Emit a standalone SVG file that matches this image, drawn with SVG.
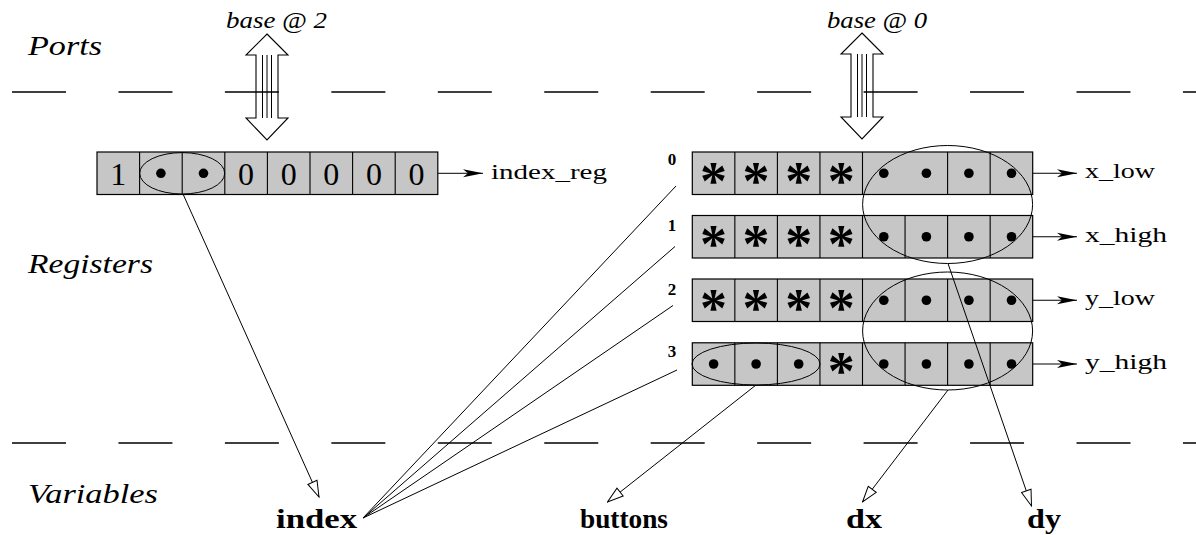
<svg xmlns="http://www.w3.org/2000/svg" width="1196" height="535" viewBox="0 0 1196 535">
<style>
.reg{fill:#c6c6c6;stroke:#000;stroke-width:1.2}
.div{stroke:#000;stroke-width:1.1}
.dot{fill:#000}
.ell{fill:none;stroke:#000;stroke-width:1}
.con{fill:none;stroke:#000;stroke-width:1}
.dash{stroke:#000;stroke-width:1.3;stroke-dasharray:54 52.45}
.sec{font-family:"Liberation Serif",serif;font-style:italic;font-size:27px}
.base{font-family:"Liberation Serif",serif;font-style:italic;font-size:24px}
.name{font-family:"Liberation Serif",serif;font-size:22px}
.var{font-family:"Liberation Serif",serif;font-weight:bold;font-size:27px}
.num{font-family:"Liberation Serif",serif;font-weight:bold;font-size:17px;text-anchor:middle}
.dig{font-family:"Liberation Serif",serif;font-size:32px;text-anchor:middle}
.ast{font-family:"Liberation Serif",serif;font-weight:bold;font-size:54px;text-anchor:middle}
</style>
<defs>
<marker id="fa" viewBox="0 0 20 10" refX="20" refY="5" markerWidth="20" markerHeight="10" orient="auto" markerUnits="userSpaceOnUse"><path d="M0,1 L20,5 L0,9 L5,5 Z" fill="#000"/></marker>
<marker id="oa" viewBox="-1 -1 18 12" refX="16" refY="5" markerWidth="18" markerHeight="12" orient="auto" markerUnits="userSpaceOnUse"><path d="M0,0 L16,5 L0,10 Z" fill="#fff" stroke="#000" stroke-width="1"/></marker>
<g id="darrow"><polygon points="0,0 21,21 11,21 11,84 21,84 0,106 -21,84 -11,84 -11,21 -21,21" fill="none" stroke="#000" stroke-width="1.1"/><path d="M-4.5,21V84M0,21V84M4.5,21V84" stroke="#000" stroke-width="1"/></g>
</defs>
<rect width="1196" height="535" fill="#fff"/>

<!-- section labels -->
<g id="sections">
<text class="sec" x="28" y="55" textLength="74" lengthAdjust="spacingAndGlyphs">Ports</text>
<text class="sec" x="28" y="273" textLength="125" lengthAdjust="spacingAndGlyphs">Registers</text>
<text class="sec" x="28" y="503" textLength="130" lengthAdjust="spacingAndGlyphs">Variables</text>
</g>

<!-- port arrows -->
<g id="port2">
<use href="#darrow" transform="translate(267,34)"/>
<text class="base" x="226" y="28" textLength="101" lengthAdjust="spacingAndGlyphs">base @ 2</text>
</g>
<g id="port0">
<use href="#darrow" transform="translate(862,33)"/>
<text class="base" x="827" y="28" textLength="100" lengthAdjust="spacingAndGlyphs">base @ 0</text>
</g>

<!-- dashed boundaries -->
<g id="boundaries">
<line class="dash" x1="12" y1="92" x2="1196" y2="92"/>
<line class="dash" x1="12" y1="443" x2="1196" y2="443"/>
</g>

<!-- index register -->
<g id="index_reg">
<rect class="reg" x="97" y="152" width="340.8" height="42.5"/>
<path class="div" d="M139.6,152V194.5M182.2,152V194.5M224.8,152V194.5M267.4,152V194.5M310,152V194.5M352.6,152V194.5M395.2,152V194.5"/>
<text class="dig" x="118.3" y="184.5">1</text>
<circle class="dot" cx="160.9" cy="173.3" r="4.8"/>
<circle class="dot" cx="203.5" cy="173.3" r="4.8"/>
<text class="dig" x="246.1" y="184.5">0</text>
<text class="dig" x="288.7" y="184.5">0</text>
<text class="dig" x="331.3" y="184.5">0</text>
<text class="dig" x="373.9" y="184.5">0</text>
<text class="dig" x="416.5" y="184.5">0</text>
<ellipse class="ell" cx="182.2" cy="173.3" rx="42.5" ry="20.7"/>
<text class="name" x="491" y="179" textLength="116" lengthAdjust="spacingAndGlyphs">index_reg</text>
</g>

<!-- row 0 -->
<g id="x_low">
<rect class="reg" x="692.3" y="152" width="340.4" height="42.5"/>
<path class="div" d="M734.85,152V194.5M777.4,152V194.5M819.95,152V194.5M862.5,152V194.5M947.6,152V194.5M990.15,152V194.5"/>
<text class="num" x="672" y="165">0</text>
<text class="ast" x="713.6" y="198.5">*</text>
<text class="ast" x="756.1" y="198.5">*</text>
<text class="ast" x="798.7" y="198.5">*</text>
<text class="ast" x="841.2" y="198.5">*</text>
<circle class="dot" cx="883.8" cy="173.25" r="4.8"/>
<circle class="dot" cx="926.4" cy="173.25" r="4.8"/>
<circle class="dot" cx="968.9" cy="173.25" r="4.8"/>
<circle class="dot" cx="1011.5" cy="173.25" r="4.8"/>
<text class="name" x="1085" y="178" textLength="70" lengthAdjust="spacingAndGlyphs">x_low</text>
</g>
<!-- row 1 -->
<g id="x_high">
<rect class="reg" x="692.3" y="215.5" width="340.4" height="42.5"/>
<path class="div" d="M734.85,215.5V258M777.4,215.5V258M819.95,215.5V258M862.5,215.5V258M905.05,215.5V258M947.6,215.5V258M990.15,215.5V258"/>
<text class="num" x="672" y="231">1</text>
<text class="ast" x="713.6" y="262">*</text>
<text class="ast" x="756.1" y="262">*</text>
<text class="ast" x="798.7" y="262">*</text>
<text class="ast" x="841.2" y="262">*</text>
<circle class="dot" cx="883.8" cy="236.75" r="4.8"/>
<circle class="dot" cx="926.4" cy="236.75" r="4.8"/>
<circle class="dot" cx="968.9" cy="236.75" r="4.8"/>
<circle class="dot" cx="1011.5" cy="236.75" r="4.8"/>
<text class="name" x="1085" y="242" textLength="82" lengthAdjust="spacingAndGlyphs">x_high</text>
</g>
<!-- row 2 -->
<g id="y_low">
<rect class="reg" x="692.3" y="279" width="340.4" height="42.5"/>
<path class="div" d="M734.85,279V321.5M777.4,279V321.5M819.95,279V321.5M862.5,279V321.5M905.05,279V321.5M947.6,279V321.5M990.15,279V321.5"/>
<text class="num" x="672" y="295">2</text>
<text class="ast" x="713.6" y="325.5">*</text>
<text class="ast" x="756.1" y="325.5">*</text>
<text class="ast" x="798.7" y="325.5">*</text>
<text class="ast" x="841.2" y="325.5">*</text>
<circle class="dot" cx="883.8" cy="300.25" r="4.8"/>
<circle class="dot" cx="926.4" cy="300.25" r="4.8"/>
<circle class="dot" cx="968.9" cy="300.25" r="4.8"/>
<circle class="dot" cx="1011.5" cy="300.25" r="4.8"/>
<text class="name" x="1085" y="305" textLength="70" lengthAdjust="spacingAndGlyphs">y_low</text>
</g>
<!-- row 3 -->
<g id="y_high">
<rect class="reg" x="692.3" y="342.8" width="340.4" height="42.5"/>
<path class="div" d="M734.85,342.8V385.3M777.4,342.8V385.3M819.95,342.8V385.3M862.5,342.8V385.3M905.05,342.8V385.3M947.6,342.8V385.3M990.15,342.8V385.3"/>
<text class="num" x="672" y="357">3</text>
<circle class="dot" cx="713.6" cy="364" r="4.8"/>
<circle class="dot" cx="756.1" cy="364" r="4.8"/>
<circle class="dot" cx="798.7" cy="364" r="4.8"/>
<text class="ast" x="841.2" y="389.3">*</text>
<circle class="dot" cx="883.8" cy="364" r="4.8"/>
<circle class="dot" cx="926.4" cy="364" r="4.8"/>
<circle class="dot" cx="968.9" cy="364" r="4.8"/>
<circle class="dot" cx="1011.5" cy="364" r="4.8"/>
<ellipse class="ell" cx="756" cy="364" rx="64" ry="21"/>
<text class="name" x="1085" y="369" textLength="82" lengthAdjust="spacingAndGlyphs">y_high</text>
</g>

<!-- field groupings -->
<g id="groupings">
<ellipse class="ell" cx="947.6" cy="204.5" rx="85" ry="59"/>
<ellipse class="ell" cx="947.6" cy="331" rx="85" ry="59"/>
</g>

<!-- variables -->
<g id="index"><text class="var" x="276" y="528" textLength="81" lengthAdjust="spacingAndGlyphs">index</text></g>
<g id="buttons"><text class="var" x="580" y="528" textLength="88" lengthAdjust="spacingAndGlyphs">buttons</text></g>
<g id="dx"><text class="var" x="846" y="528" textLength="36" lengthAdjust="spacingAndGlyphs">dx</text></g>
<g id="dy"><text class="var" x="1027" y="528" textLength="34" lengthAdjust="spacingAndGlyphs">dy</text></g>

<!-- connectors -->
<g id="connectors">
<line class="con" x1="438" y1="173.3" x2="483" y2="173.3" marker-end="url(#fa)"/>
<line class="con" x1="1033" y1="173.25" x2="1077" y2="173.25" marker-end="url(#fa)"/>
<line class="con" x1="1033" y1="236.75" x2="1077" y2="236.75" marker-end="url(#fa)"/>
<line class="con" x1="1033" y1="300.25" x2="1077" y2="300.25" marker-end="url(#fa)"/>
<line class="con" x1="1033" y1="364" x2="1077" y2="364" marker-end="url(#fa)"/>
<line class="con" x1="183" y1="194" x2="319" y2="497" marker-end="url(#oa)"/>
<path class="con" d="M363,518L676,186M363,518L675,246.5M363,518L673,305.5M363,518L677,370"/>
<line class="con" x1="756" y1="385" x2="607.5" y2="502" marker-end="url(#oa)"/>
<line class="con" x1="948" y1="390" x2="862.5" y2="502" marker-end="url(#oa)"/>
<line class="con" x1="948" y1="263.5" x2="1031.5" y2="506" marker-end="url(#oa)"/>
</g>
</svg>
